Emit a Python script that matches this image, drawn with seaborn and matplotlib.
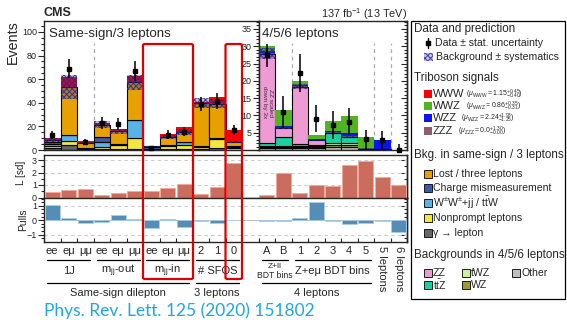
import numpy as np
import pandas as pd
import matplotlib
matplotlib.use("Agg")
import matplotlib.pyplot as plt
import seaborn as sns
import matplotlib.transforms as mtransforms
from matplotlib.patches import Rectangle, FancyBboxPatch
from matplotlib.lines import Line2D
from matplotlib.ticker import MultipleLocator, FixedLocator

# ------------------------------------------------------------------ data
ss_labels = ["ee", "eμ", "μμ", "ee", "eμ", "μμ", "ee", "eμ", "μμ", "2", "1", "0"]
ml_labels = ["A", "B", "1", "2", "3", "4", "5", "5 leptons", "6 leptons"]

# same-sign / 3 lepton region (12 bins)
ss_gamma     = [1.5, 4.5, 0.3, 1.0, 0.5, 0.5, 0.2, 0.5, 0.5, 0.5, 2.0, 0.3]
ss_nonprompt = [1.5, 3.0, 0.5, 1.5, 3.5, 9.5, 0.3, 3.0, 3.5, 2.0, 7.5, 1.5]
ss_wwttw     = [2.5, 5.0, 0.5, 4.5, 0.5, 15.5, 0.5, 0.5, 2.8, 0.3, 0.5, 0.8]
ss_chargemis = [1.5, 0.3, 0.2, 4.0, 0.3, 0.3, 1.5, 0.3, 0.2, 0.2, 0.3, 0.8]
ss_lost      = [1.5, 40.8, 4.5, 10.5, 11.0, 31.5, 0.5, 6.5, 8.5, 37.0, 29.0, 3.5]
ss_www       = [1.5, 8.0, 2.0, 1.3, 2.0, 5.5, 0.4, 2.8, 3.7, 1.0, 5.5, 10.0]
ss_sys       = [1.5, 10.0, 1.0, 3.0, 2.0, 6.5, 0.6, 1.5, 2.5, 4.0, 3.5, 0.6]
ss_data      = [12.5, 69, 7, 23, 22, 67, 2, 13, 15.5, 39, 41.5, 17]
ss_err       = [3.5, 8.3, 2.6, 4.8, 4.7, 8.2, 1.4, 3.6, 3.9, 6.2, 6.4, 4.1]

# 4/5/6 lepton region (9 bins)
ml_other = [0.7, 0.6, 0.7, 0.6, 0.8, 0.8, 0.2, 0.2, 0.0]
ml_wz    = [0.3, 0.3, 0.3, 0.3, 0.6, 0.6, 0.0, 0.0, 0.0]
ml_twz   = [0.3, 0.3, 0.2, 0.3, 0.5, 0.5, 0.0, 0.0, 0.0]
ml_ttz   = [0.8, 2.6, 0.5, 0.3, 2.9, 1.9, 0.2, 0.0, 0.0]
ml_zz    = [25.8, 2.6, 16.6, 1.3, 0.2, 0.1, 0.0, 0.1, 0.0]
ml_zzz   = [0.2, 0.1, 0.1, 0.1, 0.1, 0.1, 0.0, 0.1, 0.0]
ml_wzz   = [0.4, 0.3, 0.3, 0.3, 0.3, 0.8, 0.0, 2.5, 0.0]
ml_wwz   = [1.5, 4.9, 1.3, 1.2, 3.1, 4.9, 3.3, 0.1, 0.0]
ml_sys   = [1.5, 0.4, 0.8, 0.3, 0.4, 0.3, 0.1, 0.1, 0.0]
ml_data  = [27.4, 11, 22.4, 9.1, 7.2, 8.2, 3.1, 2.9, 0.0]
ml_err   = [3.3, 4.6, 5.5, 4.0, 4.0, 3.9, 2.8, 2.7, 1.8]

# lower panels (21 bins)
L_vals    = [0.45, 0.59, 0.67, 0.18, 0.37, 0.51, 0.53, 0.80, 1.05, 0.27, 0.86, 2.80,
             0.19, 1.93, 0.37, 0.99, 0.91, 2.60, 2.95, 1.66, 0.99]
pull_vals = [1.05, 0.18, -0.16, -0.12, 0.37, 0.09, -0.55, 0.07, -0.48, -0.07, -0.16, 0.02,
             -0.05, -0.07, 0.13, 1.28, -0.02, -0.28, -0.16, -0.03, -0.78]

# ------------------------------------------------------------------ style
C = dict(www="#ff0000", wwz="#52b520", wzz="#0a14f0", zzz="#8b5c6e",
         lost="#e6a000", chargemis="#3b5ba5", wwttw="#56b4e9", nonprompt="#f2e740",
         gamma="#666666", zz="#ee9ad4", ttz="#18d3a0", twz="#ccf0a0", wz="#a09a30",
         other="#c0c0c0")
BAND_FACE = (0.2, 0.15, 0.5, 0.32)
BAND_HATCH = (0.15, 0.15, 0.6, 0.85)

sns.set_style("ticks")
plt.rcParams["font.family"] = ["Liberation Sans", "DejaVu Sans"]
plt.rcParams["mathtext.fontset"] = "custom"
plt.rcParams["mathtext.rm"] = "Liberation Sans"
plt.rcParams["mathtext.it"] = "Liberation Sans:italic"
plt.rcParams["mathtext.bf"] = "Liberation Sans:bold"
plt.rcParams["hatch.linewidth"] = 0.7
plt.rcParams["axes.linewidth"] = 1.0

W, H = 567, 320
fig = plt.figure(figsize=(W / 100, H / 100), dpi=100)


def F(x, y):
    return (x / W, 1 - y / H)


def ax_px(x0, y0, x1, y1):
    return fig.add_axes([x0 / W, 1 - y1 / H, (x1 - x0) / W, (y1 - y0) / H])


axA = ax_px(44, 21, 258.5, 150)
axB = ax_px(258.5, 21, 407, 150)
axL = ax_px(44, 155, 407, 197.5)
axP = ax_px(44, 197.5, 407, 241.7)


def draw_stack(ax, x, bkg, sig, sys, data, err, upper_only=None):
    x = np.asarray(x, float)
    bottom = np.zeros(len(x))
    for vals, col in bkg:
        v = np.asarray(vals, float)
        m = v > 0
        ax.bar(x[m], v[m], bottom=bottom[m], width=1.0, align="edge", color=col,
               edgecolor="black", linewidth=0.8, zorder=2)
        bottom += v
    btot = bottom.copy()
    for vals, col in sig:
        v = np.asarray(vals, float)
        m = v > 0
        ax.bar(x[m], v[m], bottom=bottom[m], width=1.0, align="edge", color=col,
               edgecolor="none", linewidth=0, zorder=2)
        bottom += v
    s = np.asarray(sys, float)
    m = s > 0
    ax.bar(x[m], 2 * s[m], bottom=btot[m] - s[m], width=1.0, align="edge",
           facecolor=BAND_FACE, hatch="xxxxxx", edgecolor=BAND_HATCH,
           linewidth=0, zorder=3)
    d = np.asarray(data, float)
    e = np.asarray(err, float)
    lo = e.copy()
    if upper_only is not None:
        lo[upper_only] = 0
    ax.errorbar(x + 0.5, d, yerr=[lo, e], fmt="s", ms=2.4, color="black",
                elinewidth=1.1, capsize=0, zorder=5, clip_on=False)


xA = np.arange(12)
draw_stack(axA, xA,
           [(ss_gamma, C["gamma"]), (ss_nonprompt, C["nonprompt"]), (ss_wwttw, C["wwttw"]),
            (ss_chargemis, C["chargemis"]), (ss_lost, C["lost"])],
           [(ss_www, C["www"])], ss_sys, ss_data, ss_err)

xB = np.arange(13, 22)
draw_stack(axB, xB,
           [(ml_other, C["other"]), (ml_wz, C["wz"]), (ml_twz, C["twz"]),
            (ml_ttz, C["ttz"]), (ml_zz, C["zz"])],
           [(ml_zzz, C["zzz"]), (ml_wzz, C["wzz"]), (ml_wwz, C["wwz"])],
           ml_sys, ml_data, ml_err, upper_only=8)

axA.set_xlim(0, 13)
axA.set_ylim(0, 109.3)
axB.set_xlim(13, 22)
axB.set_ylim(0, 37.3)

dash_kw = dict(color="#aaaaaa", lw=0.9, ls=(0, (3, 3)), zorder=1)
axA.axvline(3, ymax=0.83, **dash_kw)
for xv in (15, 20, 21):
    axB.axvline(xv, ymax=0.83, **dash_kw)

for ax in (axA, axB):
    ax.set_xticks([])
    ax.tick_params(axis="y", which="both", direction="out", left=True, right=False,
                   labelsize=6.5, pad=1, width=0.8)
    ax.tick_params(axis="y", which="major", length=4)
    ax.tick_params(axis="y", which="minor", length=2)
    for sp in ax.spines.values():
        sp.set_visible(True)
        sp.set_linewidth(1.0)
axA.yaxis.set_major_locator(MultipleLocator(20))
axA.yaxis.set_minor_locator(MultipleLocator(5))
axB.yaxis.set_major_locator(FixedLocator([5, 10, 15, 20, 25, 30, 35]))
axB.yaxis.set_minor_locator(MultipleLocator(1))

axA.text(0.022, 0.9, "Same-sign/3 leptons", transform=axA.transAxes, fontsize=9.6,
         va="center", ha="left")
axB.text(0.025, 0.9, "4/5/6 leptons", transform=axB.transAxes, fontsize=9.6,
         va="center", ha="left")
axB.text(13.55, 13.7, "ZZ scaled\ndown by 3x", rotation=-90, fontsize=4.6,
         ha="center", va="center", color="#333333", linespacing=1.2, zorder=6)

# ------------------------------------------------------------------ lower panels
centers = [i + 0.5 for i in range(12)] + [i + 0.5 for i in range(13, 22)]
dfL = pd.DataFrame({"pos": centers, "val": L_vals})
dfP = pd.DataFrame({"pos": centers, "val": pull_vals})
sns.barplot(data=dfL, x="pos", y="val", native_scale=True, color="#dc5f4c",
            width=0.9, edgecolor="#f2a898", linewidth=0.6, ax=axL, zorder=3)
sns.barplot(data=dfP, x="pos", y="val", native_scale=True, color="#4690c6",
            width=0.9, edgecolor="#a8d0ea", linewidth=0.6, ax=axP, zorder=3)

for ax in (axL, axP):
    ax.set_xlim(0, 22)
    ax.set_xlabel("")
    ax.set_ylabel("")
    for sp in ax.spines.values():
        sp.set_visible(True)
        sp.set_linewidth(1.0)
    ax.tick_params(axis="y", which="both", direction="out", left=True, right=False,
                   labelsize=6.5, pad=1, width=0.8)
    ax.tick_params(axis="y", which="major", length=4)
    ax.tick_params(axis="y", which="minor", length=2)

axL.set_ylim(0, 3.4)
axL.yaxis.set_major_locator(MultipleLocator(1))
axL.yaxis.set_minor_locator(MultipleLocator(0.5))
for yv in (1, 2, 3):
    axL.axhline(yv, color="#cccccc", lw=0.8, ls=(0, (3, 3)), zorder=1)
axL.set_xticks([])

axP.set_ylim(-1.48, 1.57)
axP.yaxis.set_major_locator(FixedLocator([-1, 0, 1]))
axP.yaxis.set_minor_locator(MultipleLocator(0.25))
axP.set_yticklabels(["\u22121", "0", "1"])
for yv in (-1, 1):
    axP.axhline(yv, color="#cccccc", lw=0.8, ls=(0, (3, 3)), zorder=1)
axP.axhline(0, color="#bbbbbb", lw=0.7, zorder=1)

axP.set_xticks(centers)
axP.set_xticklabels(ss_labels + ml_labels, fontsize=8)
axP.tick_params(axis="x", which="major", length=0, pad=3)
axP.xaxis.set_minor_locator(FixedLocator([e for e in range(23) if e != 12]))
axP.tick_params(axis="x", which="minor", direction="in", length=3, width=0.8,
                bottom=True, top=False)
for t in axP.get_xticklabels()[-2:]:
    t.set_rotation(-90)
    t.set_va("top")
    t.set_ha("center")

# right-side inward ticks
for ax, loc, mloc in ((axB, 5, 1), (axL, 1, 0.5), (axP, 1, 0.25)):
    sec = ax.secondary_yaxis("right")
    sec.yaxis.set_major_locator(MultipleLocator(loc))
    sec.yaxis.set_minor_locator(MultipleLocator(mloc))
    sec.tick_params(axis="y", which="both", direction="in", labelright=False, width=0.8)
    sec.tick_params(axis="y", which="major", length=4)
    sec.tick_params(axis="y", which="minor", length=2)

# axis titles
fig.text(*F(12.5, 20), "Events", rotation=90, ha="center", va="top", fontsize=10.3)
fig.text(*F(21.5, 173), "L [sd]", rotation=90, ha="center", va="center", fontsize=7.2)
fig.text(*F(23, 220), "Pulls", rotation=90, ha="center", va="center", fontsize=7.5)
fig.text(*F(44, 13), "CMS", fontsize=9, fontweight="bold", ha="left", va="center")
fig.text(*F(407, 14), "137 fb$^{-1}$ (13 TeV)", fontsize=7.8, ha="right", va="center")

# group labels below
tr = mtransforms.blended_transform_factory(axP.transData, fig.transFigure)
row1 = [(0, 3, "1J"), (3, 6, "m$_{\\rm jj}$-out"), (6, 9, "m$_{\\rm jj}$-in"),
        (9, 12, "# SFOS"), (13, 15, None), (15, 20, "Z+eμ BDT bins")]
for a, b, lab in row1:
    fig.add_artist(Line2D([a + 0.2, b - 0.2], [1 - 260 / H] * 2, transform=tr,
                          color="black", lw=0.9))
    if lab:
        fig.text((a + b) / 2, 1 - 271 / H, lab, transform=tr, ha="center", va="center",
                 fontsize=8)
fig.text(14, 1 - 266.5 / H, "Z+ll", transform=tr, ha="center", va="center", fontsize=6)
fig.text(14, 1 - 275 / H, "BDT bins", transform=tr, ha="center", va="center", fontsize=6.2)
row2 = [(0, 9, "Same-sign dilepton"), (9, 12, "3 leptons"), (13, 20, "4 leptons")]
for a, b, lab in row2:
    fig.add_artist(Line2D([a + 0.2, b - 0.2], [1 - 283 / H] * 2, transform=tr,
                          color="black", lw=0.9))
    fig.text((a + b) / 2, 1 - 293 / H, lab, transform=tr, ha="center", va="center",
             fontsize=8)

fig.text(*F(44, 311), "Phys. Rev. Lett. 125 (2020) 151802", fontsize=12.5,
         color="#22a6e0", ha="left", va="center", family=["Lato", "DejaVu Sans"])

# ------------------------------------------------------------------ legend
fig.add_artist(Rectangle(F(411, 299), (565 - 411) / W, (299 - 21) / H,
                         transform=fig.transFigure, fill=False, lw=0.9, ec="black"))

HEAD_FS = 8.4
ITEM_FS = 7.6


def head(y, s):
    fig.text(*F(414, y), s, fontsize=HEAD_FS, ha="left", va="center")


def patch(x, y, col, edge="black"):
    fig.add_artist(Rectangle(F(x, y + 4), 8 / W, 8 / H, transform=fig.transFigure,
                             facecolor=col, edgecolor=edge, lw=0.6))


def item(x, y, s, fs=ITEM_FS):
    fig.text(*F(x, y), s, fontsize=fs, ha="left", va="center")


head(29, "Data and prediction")
fig.add_artist(Line2D([428 / W] * 2, [1 - 38 / H, 1 - 48 / H], transform=fig.transFigure,
                      color="black", lw=1))
fig.add_artist(Line2D([428 / W], [1 - 43 / H], transform=fig.transFigure, marker="s",
                      ms=2.4, color="black"))
item(435, 43, "Data ± stat. uncertainty")
fig.add_artist(Rectangle(F(424, 61), 9 / W, 8 / H, transform=fig.transFigure,
                         facecolor=(0.55, 0.55, 0.85, 0.5), hatch="xxxxxx",
                         edgecolor=BAND_HATCH, lw=0))
item(436, 57, "Background ± systematics")

head(78, "Triboson signals")
sigs = [(94, C["www"], "WWW", 466, "$(μ_{\\rm WWW} = 1.15^{+0.45}_{-0.40})$"),
        (106, C["wwz"], "WWZ", 466, "$(μ_{\\rm WWZ} = 0.86^{+0.35}_{-0.31})$"),
        (118, C["wzz"], "WZZ", 461, "$(μ_{\\rm WZZ} = 2.24^{+1.93}_{-1.25})$"),
        (131, C["zzz"], "ZZZ", 458, "$(μ_{\\rm ZZZ} = 0.0^{+1.30}_{-0.00})$")]
for y, col, name, xm, mu in sigs:
    patch(424, y, col, edge="none")
    item(433, y, name, fs=8)
    fig.text(*F(xm, y), mu, fontsize=5, ha="left", va="center")

head(155, "Bkg. in same-sign / 3 leptons")
bk = [(174, C["lost"], "Lost / three leptons"),
      (188, C["chargemis"], "Charge mismeasurement"),
      (203, C["wwttw"], "W$^{\\pm}$W$^{\\pm}$+jj / t$\\bar{\\rm t}$W"),
      (218, C["nonprompt"], "Nonprompt leptons"),
      (233, C["gamma"], "γ → lepton")]
for y, col, name in bk:
    patch(424, y, col)
    item(433, y, name)

head(255, "Backgrounds in 4/5/6 leptons")
ml = [(424, 273, C["zz"], "ZZ"), (462, 273, C["twz"], "tWZ"), (512, 273, C["other"], "Other"),
      (424, 285, C["ttz"], "t$\\bar{\\rm t}$Z"), (462, 285, C["wz"], "WZ")]
for x, y, col, name in ml:
    patch(x, y, col)
    item(x + 9, y, name)

# ------------------------------------------------------------------ red boxes
for x0, x1 in ((143, 193), (225.5, 242)):
    fig.add_artist(FancyBboxPatch(F(x0, 279), (x1 - x0) / W, (279 - 44) / H,
                                  boxstyle="round,pad=0,rounding_size=0.004",
                                  transform=fig.transFigure, fill=False,
                                  ec="#dd0000", lw=1.6, zorder=10))

fig.savefig("out.png", dpi=100)
